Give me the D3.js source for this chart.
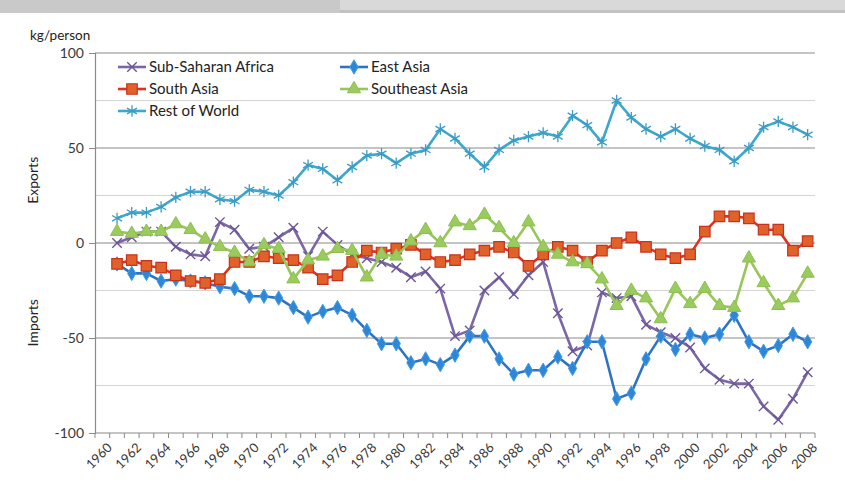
<!DOCTYPE html>
<html>
<head>
<meta charset="utf-8">
<script src="https://cdn.jsdelivr.net/npm/d3@7"></script>
<style>
  html, body { margin: 0; padding: 0; background: #fff; }
  svg { display: block; font-family: Lato, "Open Sans", sans-serif; }
</style>
</head>
<body>
<svg id="chart" width="845" height="490"></svg>
<script>
// Net trade per person by region, 1961-2008 (kg/person; positive = exports)
const years = d3.range(1961, 2009);
const categories = d3.range(1960, 2009);
const yearLabels = d3.range(1960, 2009, 2);
const yTicks = [100, 50, 0, -50, -100];
const minorTicks = [75, 25, -25, -75];

const subSaharanAfrica = [0, 3, 6, 6, -2, -6, -7, 11, 7, -3, -2, 3, 8, -7, 6, -1,
  -6, -8, -10, -13, -18, -15, -24, -49, -46, -25, -18, -27, -17, -10, -37, -57,
  -54, -26, -29, -28, -43, -47, -50, -55, -66, -72, -74, -74, -86, -93, -82, -68];
const eastAsia = [-11, -16, -16, -20, -19, -20, -21, -23, -24, -28, -28, -29, -34, -39, -36, -34,
  -38, -46, -53, -53, -63, -61, -64, -59, -49, -49, -61, -69, -67, -67, -60, -66,
  -52, -52, -82, -79, -61, -49, -56, -48, -50, -48, -38, -52, -57, -54, -48, -52];
const southAsia = [-11, -9, -12, -13, -17, -20, -21, -19, -10, -10, -7, -8, -9, -13, -19, -17,
  -10, -4, -5, -3, -1, -6, -10, -9, -6, -4, -2, -5, -12, -6, -2, -4,
  -10, -4, 0, 3, -2, -6, -8, -6, 6, 14, 14, 13, 7, 7, -4, 1];
const southeastAsia = [6, 5, 6, 6, 10, 7, 2, -2, -5, -10, -1, -3, -19, -9, -7, -3,
  -4, -18, -6, -7, 1, 7, 0, 11, 9, 15, 8, 0, 11, -2, -6, -10,
  -11, -19, -33, -25, -29, -40, -24, -32, -24, -33, -34, -8, -21, -33, -29, -16];
const restOfWorld = [13, 16, 16, 19, 24, 27, 27, 23, 22, 28, 27, 25, 32, 41, 39, 33,
  40, 46, 47, 42, 47, 49, 60, 55, 47, 40, 49, 54, 56, 58, 56, 67,
  62, 53, 75, 66, 60, 56, 60, 55, 51, 49, 43, 50, 61, 64, 61, 57];

const seriesNames = ["Sub-Saharan Africa", "East Asia", "South Asia", "Southeast Asia", "Rest of World"];
const seriesValues = [subSaharanAfrica, eastAsia, southAsia, southeastAsia, restOfWorld];

const styles = {
  "Sub-Saharan Africa": { line: "#7b66a6", symbol: d3.symbolTimes, size: 60, fill: "none", stroke: "#6a5696", sw: 1.4 },
  "East Asia":          { line: "#2f74c4", symbol: d3.symbolDiamond, size: 60, fill: "#2f86d6", stroke: "#3fa0e6", sw: 1 },
  "South Asia":         { line: "#e0301e", symbol: d3.symbolSquare, size: 110, fill: "#e0622a", stroke: "#c8321c", sw: 1.2 },
  "Southeast Asia":     { line: "#98c65a", symbol: d3.symbolTriangle, size: 75, fill: "#9acb5c", stroke: "#8cbf50", sw: 1 },
  "Rest of World":      { line: "#3fa6cc", symbol: d3.symbolAsterisk, size: 90, fill: "none", stroke: "#3a9cc4", sw: 1.3 }
};

const svg = d3.select("#chart");
const plotLeft = 95, plotRight = 815, plotTop = 53, plotBottom = 433;

// top banner strip
svg.append("rect").attr("x", 0).attr("y", 0).attr("width", 845).attr("height", 10).attr("fill", "#d9d9d9");
svg.append("rect").attr("x", 0).attr("y", 10).attr("width", 845).attr("height", 3).attr("fill", "#c2c2c2");
svg.append("rect").attr("x", 0).attr("y", 0).attr("width", 340).attr("height", 13).attr("fill", "#c9c9c9");

const x = d3.scaleBand().domain(categories).range([plotLeft, plotRight]).padding(0);
const y = d3.scaleLinear().domain([-100, 100]).range([plotBottom, plotTop]);
const cx = yr => x(yr) + x.bandwidth() / 2;

// gridlines
const grid = svg.append("g");
grid.selectAll("line.minor").data(minorTicks).join("line")
  .attr("class", "minor")
  .attr("x1", plotLeft).attr("x2", plotRight)
  .attr("y1", d => y(d)).attr("y2", d => y(d))
  .attr("stroke", "#d4d4d4").attr("stroke-width", 1);
grid.selectAll("line.major").data(yTicks.filter(t => t !== -100)).join("line")
  .attr("class", "major")
  .attr("x1", plotLeft).attr("x2", plotRight)
  .attr("y1", d => y(d)).attr("y2", d => y(d))
  .attr("stroke", "#8a8a8a").attr("stroke-width", 1.2);

// y axis
const yAxis = svg.append("g").attr("transform", `translate(${plotLeft},0)`)
  .call(d3.axisLeft(y).tickValues(yTicks).tickSize(6).tickPadding(5).tickFormat(d => String(d)));
yAxis.select(".domain").attr("stroke", "#8a8a8a").attr("stroke-width", 1.2);
yAxis.selectAll(".tick line").attr("stroke", "#8a8a8a");
yAxis.selectAll("text").attr("font-size", 14).attr("fill", "#3a3a3a")
  .attr("font-family", "Lato, sans-serif");

// x axis: boundary ticks and every-other-year labels
const xAxis = svg.append("g").attr("transform", `translate(0,${plotBottom})`);
xAxis.append("line").attr("x1", plotLeft).attr("x2", plotRight).attr("y1", 0).attr("y2", 0)
  .attr("stroke", "#8a8a8a").attr("stroke-width", 1.2);
const bounds = categories.map(c => x(c)).concat([x(categories[categories.length - 1]) + x.bandwidth()]);
xAxis.selectAll("line.tk").data(bounds).join("line")
  .attr("class", "tk")
  .attr("x1", d => d).attr("x2", d => d).attr("y1", 0).attr("y2", 5)
  .attr("stroke", "#8a8a8a");
xAxis.selectAll("text.lbl").data(yearLabels).join("text")
  .attr("class", "lbl")
  .attr("transform", d => `translate(${cx(d) + 4},${9}) rotate(-45)`)
  .attr("text-anchor", "end").attr("dy", "0.7em")
  .attr("font-size", 13).attr("fill", "#3a3a3a")
  .text(d => d);

// axis titles
svg.append("text").attr("x", 30).attr("y", 40).attr("font-size", 13.5).attr("fill", "#222").text("kg/person");
svg.append("text").attr("transform", `translate(38,${y(33)}) rotate(-90)`).attr("text-anchor", "middle")
  .attr("font-size", 14).attr("fill", "#222").text("Exports");
svg.append("text").attr("transform", `translate(38,${y(-42)}) rotate(-90)`).attr("text-anchor", "middle")
  .attr("font-size", 14).attr("fill", "#222").text("Imports");

// series
const line = d3.line().x(d => cx(d.year)).y(d => y(d.value));
seriesNames.forEach((name, i) => {
  const st = styles[name];
  const data = years.map((yr, j) => ({ year: yr, value: seriesValues[i][j] }));
  const g = svg.append("g");
  g.append("path").datum(data).attr("d", line)
    .attr("fill", "none").attr("stroke", st.line).attr("stroke-width", 2.6)
    .attr("stroke-linejoin", "round");
  g.selectAll("path.m").data(data).join("path")
    .attr("class", "m")
    .attr("transform", d => `translate(${cx(d.year)},${y(d.value)})`)
    .attr("d", d3.symbol().type(st.symbol).size(st.size))
    .attr("fill", st.fill).attr("stroke", st.stroke).attr("stroke-width", st.sw);
});

// legend
const legendPos = [
  { name: "Sub-Saharan Africa", x: 118, y: 67 },
  { name: "East Asia", x: 340, y: 67 },
  { name: "South Asia", x: 118, y: 89 },
  { name: "Southeast Asia", x: 340, y: 89 },
  { name: "Rest of World", x: 118, y: 111 }
];
const lg = svg.append("g");
legendPos.forEach(p => {
  const st = styles[p.name];
  lg.append("line").attr("x1", p.x).attr("x2", p.x + 28).attr("y1", p.y).attr("y2", p.y)
    .attr("stroke", st.line).attr("stroke-width", 2.6);
  lg.append("path").attr("transform", `translate(${p.x + 14},${p.y})`)
    .attr("d", d3.symbol().type(st.symbol).size(st.size))
    .attr("fill", st.fill).attr("stroke", st.stroke).attr("stroke-width", st.sw);
  lg.append("text").attr("x", p.x + 31).attr("y", p.y).attr("dy", "0.35em")
    .attr("font-size", 15).attr("fill", "#222").text(p.name);
});
</script>
</body>
</html>
